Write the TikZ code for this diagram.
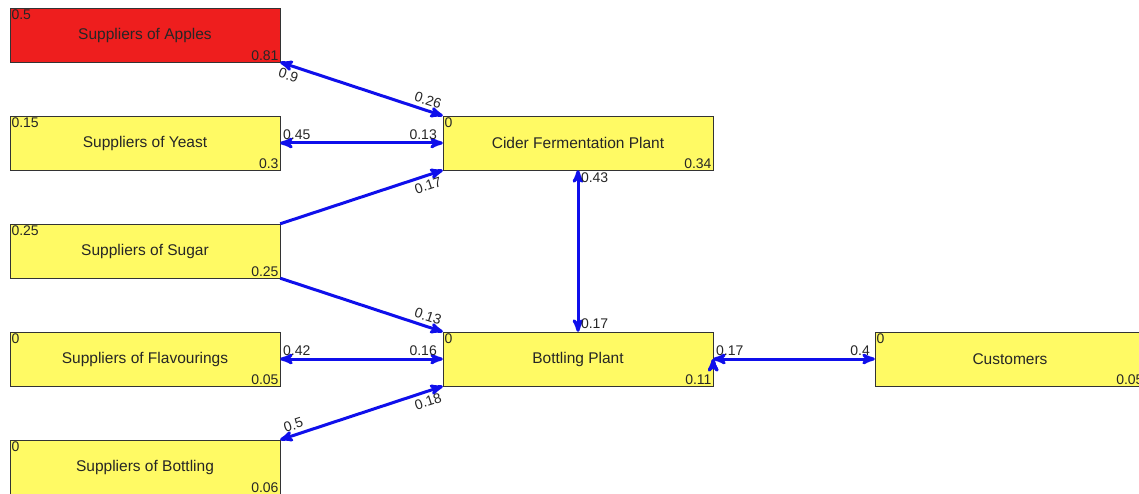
\documentclass[tikz,border=0pt]{standalone}
\usepackage{fontspec}
\setmainfont{Liberation Sans}
\usetikzlibrary{arrows}
\definecolor{boxyellow}{RGB}{255,250,100}
\definecolor{boxred}{RGB}{238,30,30}
\definecolor{linkblue}{RGB}{15,15,235}

\begin{document}
\begin{tikzpicture}[x=1pt,y=-1pt,<->,>=stealth',
  site node/.style={rectangle,draw=black!80,fill=boxyellow,minimum width=270pt,minimum height=54pt,
    inner sep=0pt,font=\fontsize{15.5}{17}\selectfont,text=black!85},
  num/.style={inner sep=1.5pt,font=\fontsize{14}{16}\selectfont,text=black!85},
  tl/.style={label={[num,anchor=north west]north west:#1}},
  br/.style={label={[num,anchor=south east]south east:#1}},
  link/.style={draw=linkblue,line width=3pt}]

  \useasboundingbox (0,0) rectangle (1139,494);

  \node[site node,fill=boxred,tl=0.5,br=0.81] (apples) at (145,35) {Suppliers of Apples};
  \node[site node,tl=0.15,br=0.3] (yeast) at (145,143) {Suppliers of Yeast};
  \node[site node,tl=0.25,br=0.25] (sugar) at (145,251) {Suppliers of Sugar};
  \node[site node,tl=0,br=0.05] (flavour) at (145,359) {Suppliers of Flavourings};
  \node[site node,tl=0,br=0.06] (bottles) at (145,467) {Suppliers of Bottling};
  \node[site node,tl=0,br=0.34] (cider) at (578,143) {Cider Fermentation Plant};
  \node[site node,tl=0,br=0.11] (bplant) at (578,359) {Bottling Plant};
  \node[site node,tl=0,br=0.05] (customers) at (1010,359) {Customers};

  \path[link,every node/.style={num}]
    (apples.south east) edge node[pos=0.07,below=2pt,sloped] {0.9}
                             node[pos=0.89,above=2pt,sloped] {0.26} (cider.north west)
    (yeast.east) edge node[pos=0,anchor=south west] {0.45}
                      node[pos=1,anchor=south east,xshift=-3pt] {0.13} (cider.west)
    (sugar.north east) edge[->] node[pos=0.89,below=2pt,sloped] {0.17} (cider.south west)
    (sugar.south east) edge[->] node[pos=0.89,above=2pt,sloped] {0.13} (bplant.north west)
    (cider.south) edge node[pos=0,anchor=north west] {0.43}
                       node[pos=1,anchor=south west] {0.17} (bplant.north)
    (flavour.east) edge node[pos=0,anchor=south west] {0.42}
                        node[pos=1,anchor=south east,xshift=-3pt] {0.16} (bplant.west)
    (bottles.north east) edge node[pos=0.1,above=2pt,sloped] {0.5}
                              node[pos=0.89,below=2pt,sloped] {0.18} (bplant.south west)
    (bplant.east) edge node[pos=0,anchor=south west] {0.17}
                       node[pos=1,anchor=south east,xshift=-2pt] {0.4} (customers.west)
;
\end{tikzpicture}
\end{document}
